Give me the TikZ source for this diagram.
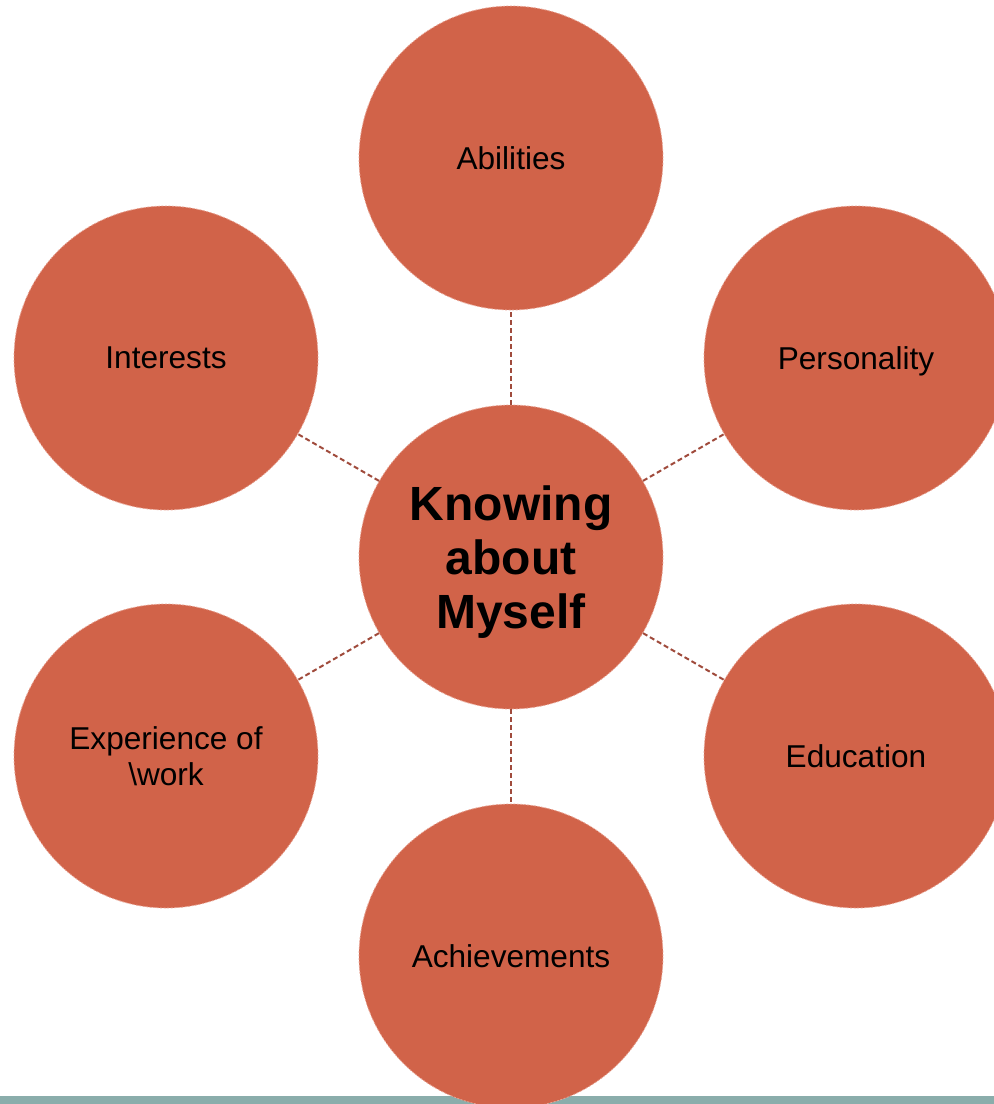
\documentclass[tikz,border=0pt]{standalone}
\usepackage{fontspec}
\setmainfont{Liberation Sans}
\definecolor{bubble}{HTML}{D16349}
\definecolor{bubbleedge}{HTML}{E9A595}
\definecolor{linkcol}{HTML}{A04B3C}
\definecolor{barcol}{HTML}{8AADAB}
\begin{document}
\begin{tikzpicture}[x=1pt,y=-1pt,
  bubblenode/.style={circle, fill=bubble, draw=bubbleedge, line width=0.8pt,
    dash pattern=on 2pt off 1.5pt, minimum size=304pt, inner sep=0pt,
    text depth=0pt,
    align=center, text=black, font=\fontsize{31.6}{36.5}\selectfont},
  centernode/.style={bubblenode, font=\bfseries\fontsize{48}{54}\selectfont},
  link/.style={draw=linkcol, line width=2pt, dash pattern=on 5pt off 3pt}]
\useasboundingbox (0,0) rectangle (994,1104);
\clip (0,0) rectangle (994,1104);
\fill[barcol] (0,1096) rectangle (994,1104);
\node[centernode] (c) at (511,557) {Knowing\\about\\Myself};
\node[bubblenode] (ab) at (511,158) {Abilities};
\node[bubblenode] (in) at (166,358) {Interests};
\node[bubblenode] (pe) at (856,358) {Personality};
\node[bubblenode] (ex) at (166,756) {Experience of\\\textbackslash work};
\node[bubblenode] (ed) at (856,756) {Education};
\node[bubblenode] (ac) at (511,956) {Achievements};
\foreach \n in {ab,in,pe,ex,ed,ac}{\draw[link] (c) -- (\n);}
\end{tikzpicture}
\end{document}
